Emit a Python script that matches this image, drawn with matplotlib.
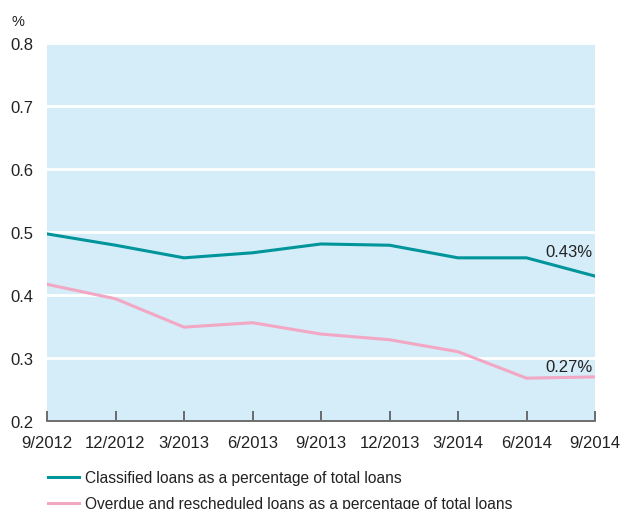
import matplotlib
matplotlib.use("Agg")
import matplotlib.pyplot as plt

categories = ["9/2012", "12/2012", "3/2013", "6/2013", "9/2013", "12/2013", "3/2014", "6/2014", "9/2014"]
classified = [0.497, 0.479, 0.459, 0.467, 0.481, 0.479, 0.459, 0.459, 0.430]
overdue = [0.417, 0.394, 0.349, 0.356, 0.338, 0.329, 0.310, 0.268, 0.270]
y_ticks = [0.2, 0.3, 0.4, 0.5, 0.6, 0.7, 0.8]
label_classified = "Classified loans as a percentage of total loans"
label_overdue = "Overdue and rescheduled loans as a percentage of total loans"

plt.rcParams['font.family'] = ['Liberation Sans', 'DejaVu Sans']

teal = "#00959a"
pink = "#f2a7c3"
bg = "#d5ecf9"
text_c = "#222222"

fig = plt.figure(figsize=(6.23, 5.10), dpi=100)
ax = fig.add_axes([47/623, 1-422/510, (595-47)/623, (422-44)/510])
ax.set_facecolor(bg)

x = list(range(len(categories)))
l1, = ax.plot(x, classified, color=teal, lw=2.2, label=label_classified, solid_joinstyle='miter')
l2, = ax.plot(x, overdue, color=pink, lw=2.2, label=label_overdue, solid_joinstyle='miter')

ax.set_xlim(0, len(categories)-1)
ax.set_ylim(0.2, 0.8)
ax.set_yticks(y_ticks)
ax.set_yticklabels([f"{v:.1f}" for v in y_ticks])
ax.set_xticks(x)
ax.set_xticklabels(categories)
ax.grid(axis='y', color='white', lw=2)
ax.set_axisbelow(True)
for s in ['top', 'right', 'left']:
    ax.spines[s].set_visible(False)
ax.spines['bottom'].set_color('#555555')
ax.spines['bottom'].set_linewidth(1.2)
ax.tick_params(axis='x', direction='in', length=7, color='#555555', width=1.2, pad=10, labelsize=12, labelcolor=text_c)
ax.tick_params(axis='y', length=0, pad=10, labelsize=12, labelcolor=text_c)

ax.annotate(f"{classified[-1]:.2f}%", xy=(x[-1], classified[-1]), xytext=(-2, 12), textcoords='offset points',
            ha='right', va='bottom', fontsize=12, color=text_c)
ax.annotate(f"{overdue[-1]:.2f}%", xy=(x[-1], overdue[-1]), xytext=(-2, 2), textcoords='offset points',
            ha='right', va='bottom', fontsize=12, color=text_c)

fig.text(12/623, 1-22/510, "%", fontsize=10.5, color=text_c, va='center', ha='left')

fig.legend(handles=[l1, l2], loc='upper left', bbox_to_anchor=(42/623, 1-465/510), frameon=False,
           fontsize=11.2, handlelength=1.95, handletextpad=0.4, labelspacing=0.7, borderaxespad=0, labelcolor=text_c)

fig.savefig("out.png", dpi=100)
